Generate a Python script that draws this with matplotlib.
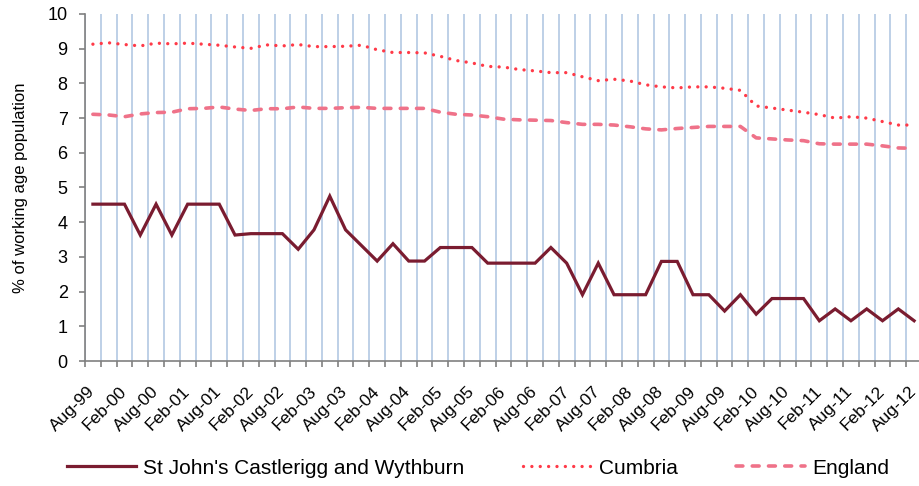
import numpy as np
import matplotlib
matplotlib.use("Agg")
import matplotlib.pyplot as plt

plt.rcParams['font.family'] = ['Liberation Sans', 'DejaVu Sans']

# quarterly, Aug-99 .. Aug-12
months = ['Aug', 'Nov', 'Feb', 'May']
quarters = []
for k in range(53):
    m = months[k % 4]
    yr = 99 + (k + 2) // 4 if k % 4 >= 2 else 99 + k // 4
    quarters.append('%s-%02d' % (m, yr % 100))

local = [4.52, 4.52, 4.52, 3.63, 4.52, 3.63, 4.52, 4.52, 4.52, 3.63,
         3.67, 3.67, 3.67, 3.22, 3.78, 4.75, 3.78, 3.33, 2.88, 3.38,
         2.88, 2.88, 3.27, 3.27, 3.27, 2.82, 2.82, 2.82, 2.82, 3.27,
         2.82, 1.91, 2.82, 1.91, 1.91, 1.91, 2.87, 2.87, 1.91, 1.91,
         1.44, 1.91, 1.35, 1.80, 1.80, 1.80, 1.16, 1.50, 1.16, 1.50,
         1.16, 1.50, 1.16]
cumbria = [9.13, 9.17, 9.12, 9.08, 9.16, 9.14, 9.16, 9.13, 9.10, 9.05,
           9.01, 9.11, 9.08, 9.12, 9.06, 9.06, 9.07, 9.10, 8.97, 8.89,
           8.89, 8.88, 8.78, 8.66, 8.59, 8.49, 8.47, 8.40, 8.36, 8.31,
           8.31, 8.19, 8.08, 8.12, 8.07, 7.96, 7.90, 7.87, 7.90, 7.90,
           7.86, 7.80, 7.35, 7.29, 7.23, 7.17, 7.10, 7.00, 7.04, 7.00,
           6.90, 6.80, 6.80]
england = [7.11, 7.09, 7.04, 7.12, 7.16, 7.17, 7.27, 7.28, 7.32, 7.26,
           7.22, 7.27, 7.27, 7.32, 7.28, 7.28, 7.30, 7.31, 7.28, 7.28,
           7.28, 7.28, 7.17, 7.11, 7.09, 7.04, 6.97, 6.95, 6.94, 6.93,
           6.87, 6.82, 6.82, 6.80, 6.75, 6.69, 6.66, 6.70, 6.73, 6.76,
           6.76, 6.76, 6.43, 6.40, 6.37, 6.35, 6.26, 6.25, 6.25, 6.25,
           6.20, 6.14, 6.13]

x = np.arange(len(quarters))

fig = plt.figure(figsize=(9.19, 4.86), dpi=100)
ax = fig.add_axes([85/919, 125/486, 837/919, 347/486])

ax.plot(x, local, color='#7A1C30', lw=2.3, solid_joinstyle='miter',
        label="St John's Castlerigg and Wythburn", zorder=4)
ax.plot(x, cumbria, color='#FF3A48', lw=2.4, linestyle=(0, (0.01, 2.5)),
        dash_capstyle='round', label='Cumbria', zorder=3)
ax.plot(x, england, color='#EF7289', lw=2.6, linestyle=(0, (1.9, 2.6)),
        dash_capstyle='round', label='England', zorder=3)

ax.set_xlim(-0.5, len(quarters) - 0.5)
ax.set_ylim(0, 10)
ax.set_yticks(range(0, 11))
ax.set_xticks(x[::2])
ax.set_xticklabels(quarters[::2], rotation=45, ha='right', va='center',
                   rotation_mode='anchor', fontsize=12.5)
ax.set_xticks(np.arange(-0.5, len(quarters)), minor=True)
ax.tick_params(axis='x', which='major', length=0, pad=20)
ax.tick_params(axis='x', which='minor', length=4.5, color='#808080', width=1.2)
ax.tick_params(axis='y', length=4.5, color='#808080', width=1.2, labelsize=13, pad=8)
ax.grid(which='minor', axis='x', color='#B9CDE5', lw=1.3)
ax.set_axisbelow(True)

for s in ['top', 'right']:
    ax.spines[s].set_visible(False)
for s in ['left', 'bottom']:
    ax.spines[s].set_color('#808080')
    ax.spines[s].set_linewidth(1.2)

ax.set_ylabel('% of working age population', fontsize=12, labelpad=14)

fig.legend(loc='center', bbox_to_anchor=(0.52, 0.037), ncol=3, frameon=False,
           fontsize=15, handlelength=3.3, handletextpad=0.35, columnspacing=2.8)

fig.savefig('out.png', dpi=100)
